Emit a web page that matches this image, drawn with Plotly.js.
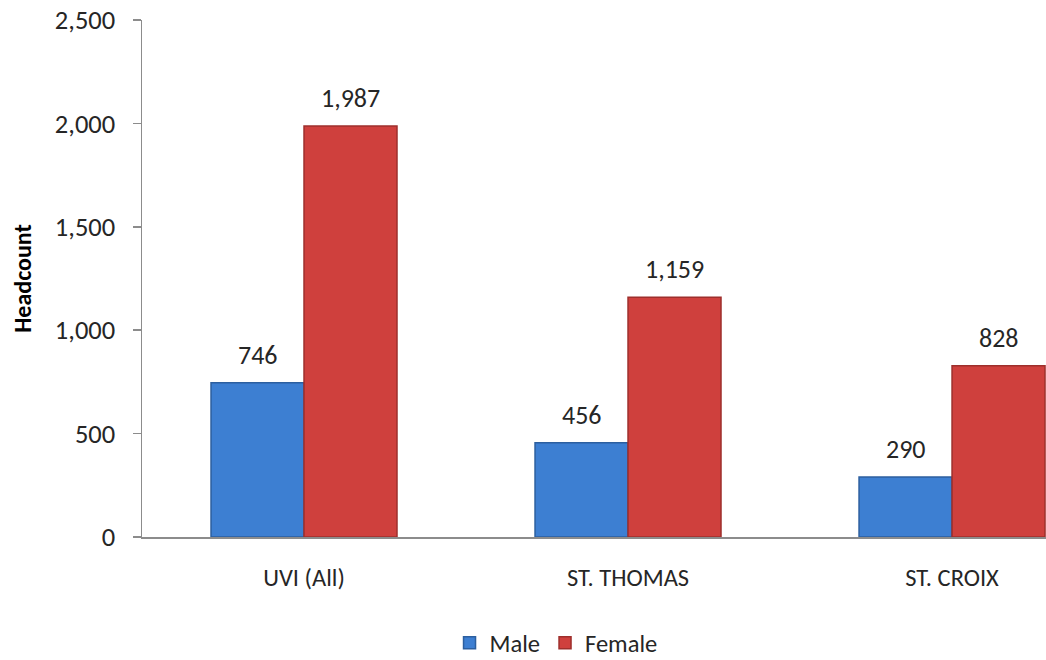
<!DOCTYPE html>
<html>
<head>
<meta charset="utf-8">
<script src="https://cdn.plot.ly/plotly-3.0.1.min.js"></script>
<style>html,body{margin:0;padding:0;background:#fff;}#chart{width:1046px;height:660px;}</style>
</head>
<body>
<div id="chart"></div>
<script>
const categories = ["UVI (All)", "ST. THOMAS", "ST. CROIX"];
const maleValues = [746, 456, 290];
const femaleValues = [1987, 1159, 828];
const seriesNames = ["Male", "Female"];
const yTickVals = [0, 500, 1000, 1500, 2000, 2500];

const FONT = "Carlito, Lato, 'Liberation Sans', sans-serif";
const TEXT = "#262626";
const barW = 0.287;
const idx = categories.map((c, i) => i);
const fmt = v => v.toLocaleString("en-US");

const traces = [
  {
    type: "bar", name: seriesNames[0], x: idx, y: maleValues,
    width: barW, offset: -barW,
    marker: {color: "#3d7fd2", line: {color: "#2c5f9f", width: 1.5}},
    hoverinfo: "y"
  },
  {
    type: "bar", name: seriesNames[1], x: idx, y: femaleValues,
    width: barW, offset: 0,
    marker: {color: "#cf403d", line: {color: "#9e2f2c", width: 1.5}},
    hoverinfo: "y"
  }
];

const annotations = [];
idx.forEach(i => {
  annotations.push({x: i - barW / 2, y: maleValues[i], xref: "x", yref: "y", text: fmt(maleValues[i]),
    showarrow: false, yanchor: "bottom", yshift: 10, font: {family: FONT, size: 26, color: TEXT}});
  annotations.push({x: i + barW / 2, y: femaleValues[i], xref: "x", yref: "y", text: fmt(femaleValues[i]),
    showarrow: false, yanchor: "bottom", yshift: 10, font: {family: FONT, size: 26, color: TEXT}});
});

const layout = {
  width: 1046, height: 660,
  margin: {l: 142, r: 0, t: 20, b: 123},
  paper_bgcolor: "#ffffff", plot_bgcolor: "#ffffff",
  showlegend: true,
  barmode: "overlay",
  font: {family: FONT, size: 24, color: TEXT},
  xaxis: {
    range: [-0.5, 2.29],
    tickvals: idx, ticktext: categories,
    showgrid: false, zeroline: false,
    showline: true, linecolor: "#8c8c8c", linewidth: 1.5,
    ticks: "", ticklabelstandoff: 18,
    tickfont: {family: FONT, size: 24.5, color: TEXT},
    automargin: false,
    fixedrange: true
  },
  yaxis: {
    range: [0, 2500],
    tickvals: yTickVals, ticktext: yTickVals.map(fmt),
    showgrid: false, zeroline: false,
    showline: true, linecolor: "#8c8c8c", linewidth: 1.5,
    ticks: "outside", ticklen: 8, tickcolor: "#8c8c8c", tickwidth: 1.5,
    ticklabelstandoff: 12,
    tickfont: {family: FONT, size: 26.5, color: TEXT},
    title: {text: "<b>Headcount</b>", standoff: 16, font: {family: FONT, size: 24, color: "#000"}},
    automargin: false,
    fixedrange: true
  },
  legend: {
    orientation: "h", x: 0.458, xanchor: "center",
    yref: "container", y: 0.026, yanchor: "middle",
    font: {family: FONT, size: 24.5, color: TEXT},
    traceorder: "normal", itemwidth: 30
  },
  annotations: annotations
};

Plotly.newPlot("chart", traces, layout, {displayModeBar: false, staticPlot: true});
</script>
</body>
</html>
